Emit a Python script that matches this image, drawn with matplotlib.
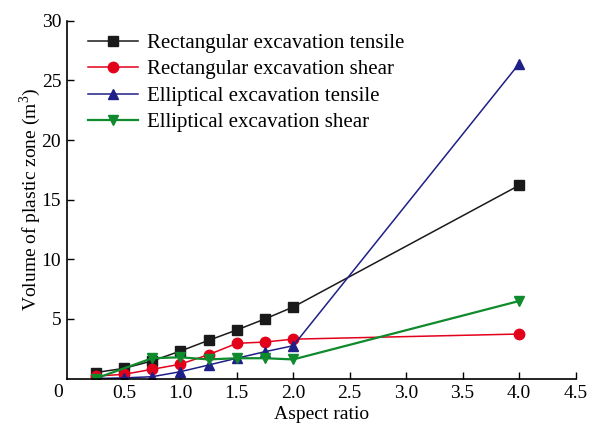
import matplotlib
matplotlib.use('Agg')
import matplotlib.pyplot as plt

plt.rcParams['font.family'] = ['Liberation Serif', 'DejaVu Serif']
plt.rcParams['mathtext.fontset'] = 'custom'
plt.rcParams['mathtext.rm'] = 'Liberation Serif'

# aspect ratio of the excavation vs. plastic zone volume
ratio = [0.25, 0.5, 0.75, 1.0, 1.25, 1.5, 1.75, 2.0, 4.0]
rect_tensile = [0.5, 0.85, 1.47, 2.3, 3.2, 4.07, 5.0, 6.0, 16.2]
rect_shear = [0.2, 0.35, 0.77, 1.2, 2.0, 2.95, 3.06, 3.3, 3.73]
ellip_tensile = [0.0, 0.05, 0.15, 0.57, 1.13, 1.7, 2.25, 2.75, 26.4]
ellip_shear_x = [0.25, 0.75, 1.0, 1.25, 1.5, 1.75, 2.0, 4.0]
ellip_shear = [0.0, 1.7, 1.78, 1.6, 1.7, 1.7, 1.6, 6.5]

xticks = [0.5, 1.0, 1.5, 2.0, 2.5, 3.0, 3.5, 4.0, 4.5]
yticks = [5, 10, 15, 20, 25, 30]

fig = plt.figure(figsize=(5.97, 4.26), dpi=100)
ax = fig.add_axes([0.113, 0.1115, 0.851, 0.8395])

ax.plot(ratio, rect_tensile, '-s', color='#1a1a1a', lw=1.1, ms=6.5,
        label='Rectangular excavation tensile')
ax.plot(ratio, rect_shear, '-o', color='#e3001b', lw=1.1, ms=7.5,
        label='Rectangular excavation shear')
ax.plot(ratio, ellip_tensile, '-^', color='#1f1f88', lw=1.1, ms=7.5,
        label='Elliptical excavation tensile')
ax.plot(ellip_shear_x, ellip_shear, '-v', color='#0f8a2c', lw=1.6, ms=7.5,
        label='Elliptical excavation shear')

ax.set_xlim(0, 4.5)
ax.set_ylim(0, 30)
ax.set_xticks(xticks)
ax.set_xticklabels(['%.1f' % t for t in xticks])
ax.set_yticks(yticks)
ax.tick_params(direction='in', labelsize=14, length=5, width=1, pad=4.5)
ax.spines['top'].set_visible(False)
ax.spines['right'].set_visible(False)
for s in ['left', 'bottom']:
    ax.spines[s].set_linewidth(1.2)
ax.text(-0.019, -0.04, '0', transform=ax.transAxes, fontsize=14,
        ha='center', va='center')

ax.set_xlabel('Aspect ratio', fontsize=14)
ax.xaxis.set_label_coords(0.5, -0.076)
ax.set_ylabel('Volume of plastic zone (m$^3$)', fontsize=14)
ax.yaxis.set_label_coords(-0.073, 0.5)
ax.yaxis.label.set_va('center')
ax.xaxis.label.set_va('top')

ax.legend(loc='upper left', bbox_to_anchor=(0.015, 1.0), frameon=False,
          fontsize=15, handlelength=2.4, handletextpad=0.45,
          labelspacing=0.33, borderaxespad=0.2)

fig.savefig('out.png', dpi=100)
